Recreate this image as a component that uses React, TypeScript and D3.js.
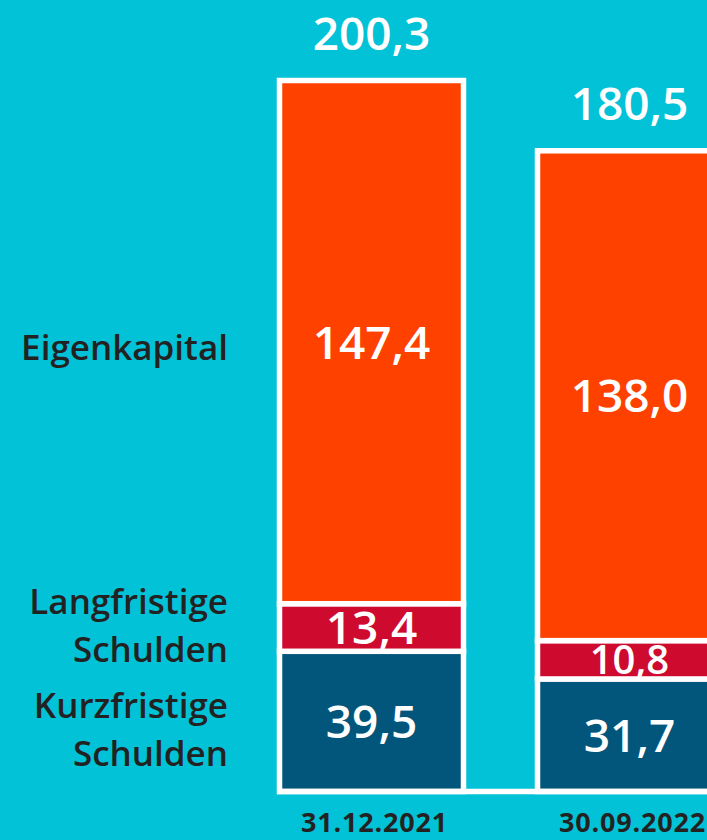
import React from "react";
import * as d3 from "d3";

const dates = ["31.12.2021", "30.09.2022"];
const kurzfristige = [39.5, 31.7];
const langfristige = [13.4, 10.8];
const eigenkapital = [147.4, 138.0];
const totals = [200.3, 180.5];
const totalLabels = ["200,3", "180,5"];
const seriesNames = ["Kurzfristige Schulden", "Langfristige Schulden", "Eigenkapital"];
const seriesLines = [["Kurzfristige", "Schulden"], ["Langfristige", "Schulden"], ["Eigenkapital"]];
const colors = ["#03567B", "#CE0A2E", "#FF4100"];

const W = 707;
const H = 840;
const fmt = (v: number) => v.toFixed(1).replace(".", ",");

export default function App() {
  const rows = dates.map((d, i) => ({
    date: d,
    k: kurzfristige[i],
    l: langfristige[i],
    e: eigenkapital[i],
  }));
  const stack = d3.stack<any>().keys(["k", "l", "e"])(rows);
  const y = d3.scaleLinear().domain([0, 200.3]).range([791.5, 80.5]);
  const x = d3
    .scaleBand<string>()
    .domain(dates)
    .range([279.5, 721.5])
    .paddingInner(74 / 258)
    .paddingOuter(0);
  const bw = x.bandwidth();
  const sw = 5.5;
  const valueFont = "'Open Sans', sans-serif";
  const labelOffsets = [-3, -14, 18];

  return (
    <svg
      width={W}
      height={H}
      style={{ position: "absolute", left: 0, top: 0, display: "block" }}
    >
      <rect x={0} y={0} width={W} height={H} fill="#02C2D7" />
      {stack.map((layer, si) => (
        <g key={si}>
          {layer.map((seg, i) => {
            const x0 = x(dates[i])!;
            const yTop = y(seg[1]);
            const yBot = y(seg[0]);
            const v = seg[1] - seg[0];
            const small = si === 1 && i === 1;
            const fs = small ? 40 : 46;
            return (
              <g key={i}>
                <rect
                  x={x0}
                  y={yTop}
                  width={bw}
                  height={yBot - yTop}
                  fill={colors[si]}
                  stroke="#fff"
                  strokeWidth={sw}
                />
                <text
                  x={x0 + bw / 2}
                  y={(yTop + yBot) / 2 + fs * 0.36}
                  textAnchor="middle"
                  fill="#fff"
                  fontFamily={valueFont}
                  fontWeight={600}
                  fontSize={fs}
                >
                  {fmt(v)}
                </text>
              </g>
            );
          })}
        </g>
      ))}
      <line x1={277} x2={W} y1={y(0)} y2={y(0)} stroke="#fff" strokeWidth={sw} />
      {dates.map((d, i) => (
        <text
          key={d}
          x={x(d)! + bw / 2}
          y={y(totals[i]) - 31}
          textAnchor="middle"
          fill="#fff"
          fontFamily={valueFont}
          fontWeight={600}
          fontSize={46}
        >
          {totalLabels[i]}
        </text>
      ))}
      {dates.map((d) => (
        <text
          key={"d" + d}
          x={x(d)! + bw / 2 + 3}
          y={832}
          textAnchor="middle"
          fill="#222"
          fontFamily={valueFont}
          fontWeight={700}
          fontSize={27}
          letterSpacing={0.8}
        >
          {d}
        </text>
      ))}
      {stack.map((layer, si) => {
        const seg = layer[0];
        const cy = (y(seg[0]) + y(seg[1])) / 2;
        const lines = seriesLines[si];
        const lh = 48;
        const startY = cy + labelOffsets[si];
        return (
          <text
            key={seriesNames[si]}
            textAnchor="end"
            fill="#222"
            fontFamily={valueFont}
            fontWeight={600}
            fontSize={35}
          >
            {lines.map((ln, li) => (
              <tspan key={li} x={228} y={startY + li * lh}>
                {ln}
              </tspan>
            ))}
          </text>
        );
      })}
    </svg>
  );
}
